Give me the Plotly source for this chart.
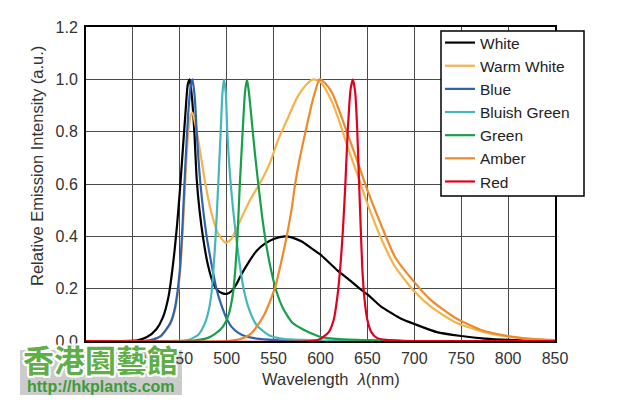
import plotly.graph_objects as go

# ---- data ----
white_nm = [350, 405, 415, 425, 432, 438, 443, 447, 450, 453, 456, 458.5, 460.5, 463, 465.5, 468, 471, 475, 480, 485.7,
            490, 495, 500, 505, 510, 515, 525, 532, 540, 550, 562, 570, 580, 590, 600, 618, 632, 644, 650, 665, 675,
            686, 700, 724, 750, 775, 800, 850]
white_val = [0, 0.003, 0.015, 0.045, 0.09, 0.17, 0.3, 0.44, 0.57, 0.72, 0.87, 0.98, 1.0, 0.93, 0.8, 0.62, 0.5, 0.39, 0.29,
             0.22, 0.195, 0.183, 0.18, 0.19, 0.215, 0.25, 0.31, 0.345, 0.37, 0.39, 0.40, 0.395, 0.38, 0.355, 0.33, 0.27,
             0.23, 0.194, 0.178, 0.13, 0.108, 0.085, 0.065, 0.034, 0.019, 0.009, 0.004, 0.0]

warm_nm = [350, 410, 420, 430, 440, 445, 450, 453, 456, 459, 461.5, 463.5, 467, 471, 476.8, 483, 491, 499, 505, 510.7,
           517, 525, 535, 546, 555, 565, 575, 585, 592, 600, 612.7, 620, 630, 640, 650, 665.5, 679.6, 700, 718, 743,
           773, 800, 825, 850]
warm_val = [0, 0, 0.005, 0.02, 0.065, 0.12, 0.25, 0.41, 0.62, 0.8, 0.86, 0.873, 0.82, 0.74, 0.61, 0.5, 0.41, 0.375, 0.39,
            0.43, 0.48, 0.54, 0.6, 0.68, 0.77, 0.85, 0.93, 0.98, 1.0, 0.99, 0.91, 0.84, 0.73, 0.63, 0.525, 0.385, 0.283,
            0.19, 0.13, 0.073, 0.035, 0.017, 0.007, 0.003]

blue_nm = [350, 410, 420, 430, 440, 445, 450, 453, 456, 459, 461.5, 463.5, 466, 468, 472, 478.6, 484, 489, 495, 500, 505,
           512, 520, 535, 560, 600, 850]
blue_val = [0, 0, 0.005, 0.02, 0.07, 0.13, 0.27, 0.45, 0.68, 0.87, 0.97, 1.0, 0.93, 0.8, 0.6, 0.4, 0.29, 0.2, 0.13, 0.085,
            0.055, 0.032, 0.018, 0.008, 0.002, 0, 0]

bgreen_nm = [350, 440, 460, 470, 477, 481, 484, 486, 488.2, 491, 493.6, 495.5, 497.1, 499, 500.6, 504.3, 510, 514, 518,
             524, 532, 545, 560, 600, 650, 850]
bgreen_val = [0, 0, 0.005, 0.025, 0.07, 0.12, 0.19, 0.28, 0.4, 0.6, 0.8, 0.95, 1.0, 0.95, 0.8, 0.6, 0.4, 0.29, 0.2,
              0.12, 0.06, 0.022, 0.008, 0.002, 0, 0]

green_nm = [350, 460, 480, 488, 496, 502, 507, 509.5, 511.5, 514, 517, 519.5, 521.7, 524, 527, 530, 534, 538, 543, 548,
            553, 560, 570, 581, 590, 600, 620, 650, 700, 850]
green_val = [0, 0, 0.012, 0.028, 0.055, 0.1, 0.19, 0.29, 0.4, 0.6, 0.8, 0.95, 1.0, 0.94, 0.83, 0.72, 0.59, 0.47, 0.35,
             0.26, 0.19, 0.125, 0.07, 0.045, 0.03, 0.016, 0.007, 0.003, 0, 0]

amber_nm = [350, 500, 515, 525, 530, 540, 546, 552, 558, 564, 569, 573, 578, 584, 589, 594, 599, 605, 612.7, 620, 630,
            640, 650, 665.5, 679.6, 700, 718, 743, 773, 800, 825, 850]
amber_val = [0, 0, 0.008, 0.025, 0.045, 0.1, 0.15, 0.21, 0.3, 0.4, 0.5, 0.6, 0.7, 0.8, 0.88, 0.95, 1.0, 0.985, 0.946,
             0.88, 0.78, 0.68, 0.577, 0.436, 0.32, 0.225, 0.155, 0.09, 0.04, 0.019, 0.008, 0.003]

red_nm = [350, 590, 600, 609, 614, 618, 621.5, 624, 626.5, 629, 632, 634.5, 637, 639, 641, 643, 645, 647.5, 650, 654,
          660, 670, 690, 850]
red_val = [0, 0, 0.008, 0.035, 0.08, 0.17, 0.3, 0.43, 0.6, 0.8, 0.96, 1.0, 0.95, 0.82, 0.62, 0.42, 0.25, 0.14, 0.08,
           0.035, 0.012, 0.004, 0, 0]

series_names = ["White", "Warm White", "Blue", "Bluish Green", "Green", "Amber", "Red"]
series_x = [white_nm, warm_nm, blue_nm, bgreen_nm, green_nm, amber_nm, red_nm]
series_y = [white_val, warm_val, blue_val, bgreen_val, green_val, amber_val, red_val]
series_colors = ["#000000", "#F6B24D", "#2F64AD", "#45B5BE", "#16A04A", "#EE8A2A", "#E1001E"]

x_ticks = [350, 400, 450, 500, 550, 600, 650, 700, 750, 800, 850]
y_ticks = [0.0, 0.2, 0.4, 0.6, 0.8, 1.0, 1.2]

fig = go.Figure()
for name, xs, ys, col in zip(series_names, series_x, series_y, series_colors):
    fig.add_trace(go.Scatter(x=xs, y=ys, name=name, mode="lines",
                             line=dict(color=col, width=2.2, shape="spline", smoothing=0.6)))

FONT = "Liberation Sans, Arial, sans-serif"
OFF = 8  # page body margin in the browser
WIN_W, WIN_H = 628, 404
PL, PR, PT, PB = 86, 555, 27, 341  # plot area in window pixels
W, H = WIN_W - OFF, WIN_H - OFF


def px(xp):
    return (xp - PL) / (PR - PL)


def py(yp):
    return (PB - yp) / (PB - PT)


fig.update_layout(
    width=W, height=H,
    margin=dict(l=PL - OFF, r=WIN_W - PR, t=PT - OFF, b=WIN_H - PB, pad=0, autoexpand=False),
    paper_bgcolor="white", plot_bgcolor="white",
    font=dict(family=FONT, size=16, color="#333333"),
    showlegend=True,
    legend=dict(x=px(440), y=py(26), xanchor="left", yanchor="top",
                bgcolor="rgba(0,0,0,0)", borderwidth=0,
                font=dict(family=FONT, size=15.5, color="#222222"),
                itemwidth=30, tracegroupgap=0),
    xaxis=dict(range=[350, 850], tickvals=x_ticks, ticktext=[str(v) for v in x_ticks],
               showgrid=True, gridcolor="#4a4a4a", gridwidth=1,
               showline=True, linecolor="#000000", linewidth=2, mirror=True,
               ticks="", zeroline=False, ticklabelstandoff=2,
               tickfont=dict(size=16, color="#333333")),
    yaxis=dict(range=[0, 1.2], tickvals=y_ticks, ticktext=["%.1f" % v for v in y_ticks],
               showgrid=True, gridcolor="#4a4a4a", gridwidth=1,
               showline=True, linecolor="#000000", linewidth=2, mirror=True,
               ticks="", zeroline=False, ticklabelstandoff=3,
               tickfont=dict(size=16, color="#333333")),
)

# legend frame (white box with black border, covering the plot frame)
fig.add_shape(type="rect", xref="paper", yref="paper", x0=px(441), x1=px(584), y0=py(196), y1=py(31),
              fillcolor="white", line=dict(color="#000000", width=1.5), layer="above")

# axis titles
fig.add_annotation(text="Relative Emission Intensity (a.u.)", xref="paper", yref="paper",
                   x=px(37), y=py(166), xanchor="center", yanchor="middle", textangle=-90, showarrow=False,
                   font=dict(family=FONT, size=16.5, color="#333333"))
fig.add_annotation(text="Wavelength&nbsp; <i>λ</i>(nm)", xref="paper", yref="paper",
                   x=px(331), y=py(379), xanchor="center", yanchor="middle", showarrow=False,
                   font=dict(family=FONT, size=16.5, color="#333333"))

# watermark
fig.add_shape(type="rect", xref="paper", yref="paper", x0=px(20), x1=px(182), y0=py(395), y1=py(350),
              fillcolor="#CBCBCB", line=dict(width=0), layer="below")
fig.add_annotation(text="http://hkplants.com", xref="paper", yref="paper", x=px(101), y=py(386),
                   xanchor="center", yanchor="middle",
                   showarrow=False, font=dict(family=FONT, size=16, color="#3F9A3A", weight="bold"))
fig.add_annotation(text="香港園藝館", xref="paper", yref="paper", x=px(100), y=py(358),
                   xanchor="center", yanchor="middle", showarrow=False,
                   font=dict(family="Noto Sans CJK TC", size=31, color="#5FAE48", weight="bold",
                             shadow="2px 0 0 #fff, -2px 0 0 #fff, 0 2px 0 #fff, 0 -2px 0 #fff, "
                                    "1.5px 1.5px 0 #fff, -1.5px -1.5px 0 #fff, 1.5px -1.5px 0 #fff, -1.5px 1.5px 0 #fff"))

fig.write_html("out.html")
